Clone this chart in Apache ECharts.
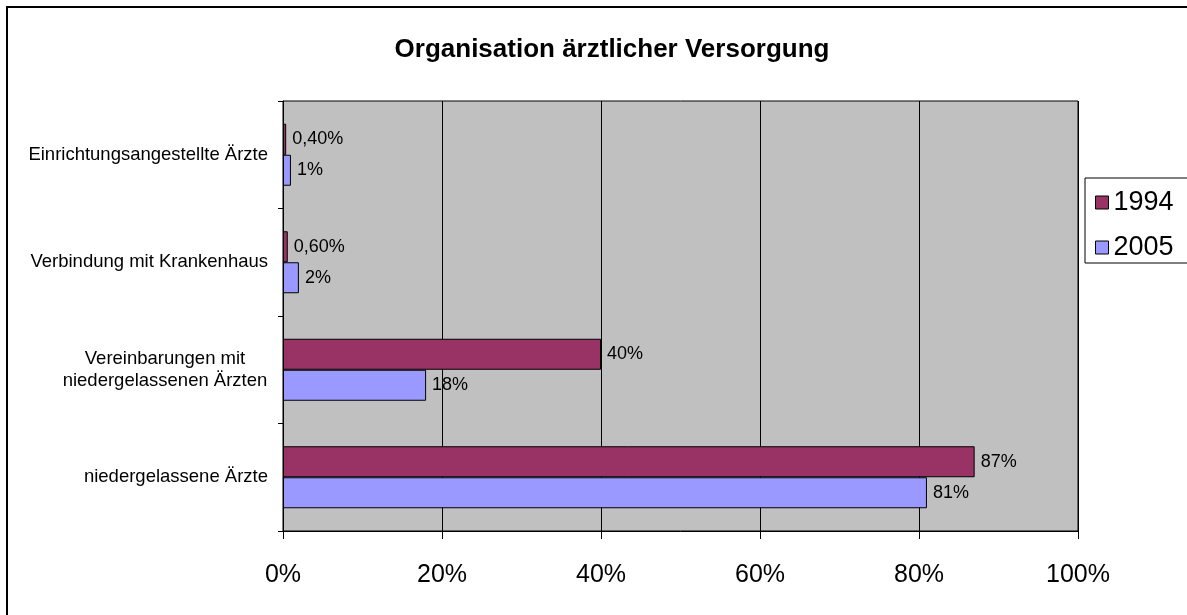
<!DOCTYPE html>
<html>
<head>
<meta charset="utf-8">
<script src="https://cdn.jsdelivr.net/npm/echarts@6/dist/echarts.min.js"></script>
<style>html,body{margin:0;padding:0;background:#fff;}#c{width:1187px;height:615px;}</style>
</head>
<body>
<div id="c"></div>
<script>
const categories = ['niedergelassene Ärzte', 'Vereinbarungen mit\nniedergelassenen Ärzten', 'Verbindung mit Krankenhaus', 'Einrichtungsangestellte Ärzte'];
const seriesNames = ['1994', '2005'];
const values1994 = [87, 40, 0.6, 0.4];
const values2005 = [81, 18, 2, 1];
const xTicks = [0, 20, 40, 60, 80, 100];

const FONT = '"Liberation Sans", Arial, sans-serif';
function fmtVal(v) {
  return (v < 1 ? v.toFixed(2).replace('.', ',') : String(v)) + '%';
}
const chart = echarts.init(document.getElementById('c'));
chart.setOption({
  animation: false,
  backgroundColor: '#fff',
  title: {
    text: 'Organisation ärztlicher Versorgung',
    left: 607, textAlign: 'center', top: 32,
    textStyle: { fontFamily: FONT, fontSize: 26, fontWeight: 'bold', color: '#000' }
  },
  graphic: [{
    type: 'rect', z: -1, silent: true,
    shape: { x: 7, y: 7, width: 1300, height: 700 },
    style: { fill: 'none', stroke: '#000', lineWidth: 2 }
  }],
  legend: {
    data: seriesNames,
    orient: 'vertical',
    left: 1085, top: 178,
    padding: [11, 80, 2, 10],
    itemGap: 18,
    itemWidth: 13, itemHeight: 13,
    itemTextGap: 14,
    icon: 'rect',
    borderColor: '#000', borderWidth: 1,
    itemStyle: { borderColor: '#000', borderWidth: 1 },
    textStyle: { fontFamily: FONT, fontSize: 27, color: '#000' }
  },
  grid: {
    left: 283, top: 101, width: 795, height: 430,
    show: true, backgroundColor: '#C0C0C0', borderColor: '#000', borderWidth: 1
  },
  xAxis: {
    type: 'value', min: xTicks[0], max: xTicks[xTicks.length - 1], interval: 20,
    axisLine: { show: true, lineStyle: { color: '#000' } },
    axisTick: { show: true, length: 8, lineStyle: { color: '#000' } },
    splitLine: { show: true, lineStyle: { color: '#000', width: 1 } },
    axisLabel: {
      formatter: '{value}%', margin: 32,
      fontFamily: FONT, fontSize: 25, color: '#000'
    }
  },
  yAxis: {
    type: 'category', data: categories,
    axisLine: { show: true, lineStyle: { color: '#000' } },
    axisTick: { show: true, length: 5, lineStyle: { color: '#000' } },
    axisLabel: {
      margin: 15, fontFamily: FONT, fontSize: 18.5, color: '#000', lineHeight: 22,
      formatter: function (v) {
        if (v.indexOf('\n') >= 0) {
          return v.split('\n').map(function (s) { return '{c|' + s + '}'; }).join('\n');
        }
        return v;
      },
      rich: { c: { width: 206, align: 'center', fontFamily: FONT, fontSize: 18.5, color: '#000', lineHeight: 22 } }
    }
  },
  series: [
    {
      name: seriesNames[0], type: 'bar', data: values1994,
      barWidth: 31, barGap: '0%',
      itemStyle: { color: '#993366', borderColor: '#000', borderWidth: 1 },
      label: { show: true, position: 'right', distance: 6, formatter: function (p) { return fmtVal(p.value); },
        fontFamily: FONT, fontSize: 18, color: '#000' }
    },
    {
      name: seriesNames[1], type: 'bar', data: values2005,
      barWidth: 31, barGap: '0%',
      itemStyle: { color: '#9999FF', borderColor: '#000', borderWidth: 1 },
      label: { show: true, position: 'right', distance: 6, formatter: function (p) { return fmtVal(p.value); },
        fontFamily: FONT, fontSize: 18, color: '#000' }
    }
  ]
});
</script>
</body>
</html>
